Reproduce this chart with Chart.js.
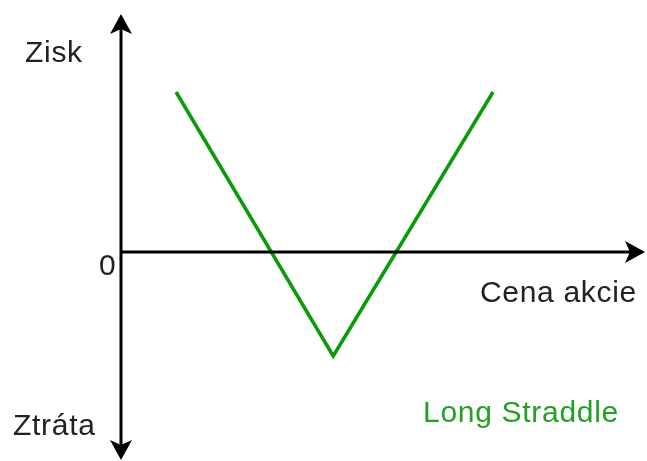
<!DOCTYPE html>
<html>
<head>
<meta charset="utf-8">
<script src="https://cdn.jsdelivr.net/npm/chart.js@4.4.0/dist/chart.umd.min.js"></script>
<style>
  html, body { margin: 0; padding: 0; background: #fff; }
  #wrap { width: 647px; height: 461px; position: relative; }
</style>
</head>
<body>
<div id="wrap"><canvas id="c" width="647" height="461"></canvas></div>
<script>
// Data (arbitrary units)
const priceValues = [2.1, 8.1, 14.2];     // stock price (x)
const profitValues = [8.0, -5.2, 8.0];    // profit / loss (y)
const seriesName = "Long Straddle";
const yTickLabels = ["0"];
const yTopLabel = "Zisk";
const yBottomLabel = "Ztráta";
const xAxisLabel = "Cena akcie";

const points = priceValues.map((x, i) => ({ x: x, y: profitValues[i] }));

const axesPlugin = {
  id: 'arrowAxes',
  afterDraw(chart) {
    const ctx = chart.ctx;
    const xs = chart.scales.x, ys = chart.scales.y;
    const x0 = xs.getPixelForValue(0);
    const y0 = ys.getPixelForValue(0);
    const yTop = ys.getPixelForValue(ys.max);
    const yBot = ys.getPixelForValue(ys.min);
    const xEnd = xs.getPixelForValue(xs.max);
    ctx.save();
    ctx.strokeStyle = '#000';
    ctx.fillStyle = '#000';
    ctx.lineWidth = 3;
    // vertical axis
    ctx.beginPath();
    ctx.moveTo(x0, yTop + 12);
    ctx.lineTo(x0, yBot - 12);
    ctx.stroke();
    // horizontal axis
    ctx.beginPath();
    ctx.moveTo(x0, y0);
    ctx.lineTo(xEnd - 10, y0);
    ctx.stroke();
    // arrowheads
    function head(tx, ty, dx, dy) {
      const L = 20, W = 11, notch = 5;
      const px = -dy, py = dx;
      ctx.beginPath();
      ctx.moveTo(tx, ty);
      ctx.lineTo(tx - dx * L + px * W, ty - dy * L + py * W);
      ctx.lineTo(tx - dx * (L - notch), ty - dy * (L - notch));
      ctx.lineTo(tx - dx * L - px * W, ty - dy * L - py * W);
      ctx.closePath();
      ctx.fill();
    }
    head(x0, yTop, 0, -1);
    head(x0, yBot, 0, 1);
    head(xEnd, y0, 1, 0);

    // labels
    if ('letterSpacing' in ctx) ctx.letterSpacing = '0.7px';
    ctx.font = '30px "Liberation Sans", Arial, sans-serif';
    ctx.fillStyle = '#222';
    ctx.textBaseline = 'alphabetic';
    ctx.textAlign = 'left';
    ctx.fillText(yTopLabel, 25, 62);
    ctx.fillText(yBottomLabel, 13, 435);
    ctx.fillText(yTickLabels[0], x0 - 22, y0 + 23);
    const w = ctx.measureText(xAxisLabel).width;
    ctx.fillText(xAxisLabel, 637 - w, 302);
    ctx.fillStyle = '#22a022';
    ctx.fillText(seriesName, 423, 422);
    ctx.restore();
  }
};

new Chart(document.getElementById('c'), {
  type: 'scatter',
  data: {
    datasets: [{
      label: seriesName,
      data: points,
      showLine: true,
      borderColor: '#0a9a0a',
      borderWidth: 3.5,
      pointRadius: 0,
      fill: false,
      tension: 0
    }]
  },
  options: {
    responsive: false,
    animation: false,
    devicePixelRatio: 1,
    layout: { padding: { left: 121, right: 2, top: 14, bottom: 1 } },
    plugins: { legend: { display: false }, tooltip: { enabled: false } },
    scales: {
      x: { type: 'linear', min: 0, max: 20, display: false },
      y: { type: 'linear', min: -10.4, max: 11.9, display: false }
    }
  },
  plugins: [axesPlugin]
});
</script>
</body>
</html>
